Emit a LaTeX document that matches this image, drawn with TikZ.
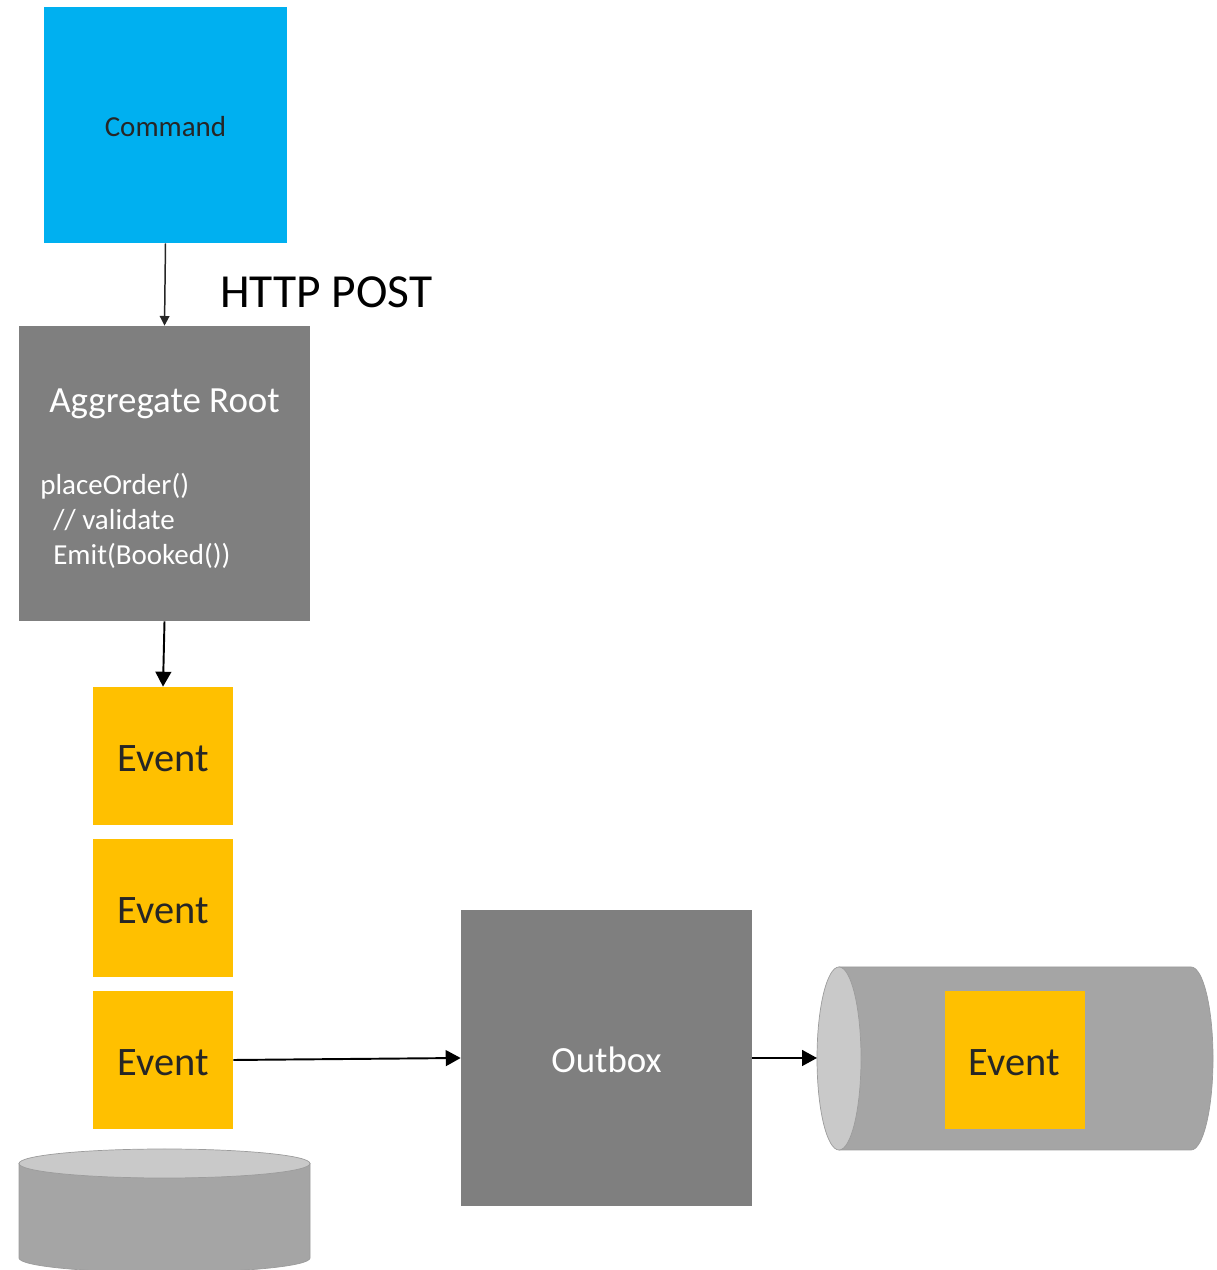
\documentclass[tikz,border=0pt]{standalone}
\usepackage{fontspec}
\setmainfont{Carlito}
\usetikzlibrary{positioning,arrows.meta}
\definecolor{cmdblue}{HTML}{00B0F0}
\definecolor{boxgray}{HTML}{7F7F7F}
\definecolor{evtyellow}{HTML}{FFC000}
\definecolor{cylbody}{HTML}{A5A5A5}
\definecolor{cylend}{HTML}{C9C9C9}
\definecolor{cyledge}{HTML}{9C9C9C}
\definecolor{inkdark}{HTML}{262626}
\newcommand{\dropby}[2]{\raisebox{-#1}[\height][\depth]{#2}}
\tikzset{
  cmdbox/.style={rectangle,fill=cmdblue,minimum width=4.86cm,minimum height=4.72cm,inner sep=0,text=inkdark,font=\fontsize{16.5}{20}\selectfont},
  graybox/.style={rectangle,fill=boxgray,minimum width=5.82cm,inner sep=0,text=white,font=\fontsize{21}{25}\selectfont},
  event/.style={rectangle,fill=evtyellow,minimum width=2.8cm,minimum height=2.76cm,inner sep=0,text=inkdark,font=\fontsize{23}{28}\selectfont},
  % the stores are cylinders, the visible end cap a lighter grey
  cylside/.style={fill=cylbody,draw=cyledge,line width=0.4pt},
  cylcap/.style={fill=cylend,draw=cyledge,line width=0.4pt},
  code/.style={text=white,inner sep=0,anchor=base west,font=\fontsize{16.5}{20}\selectfont},
  thinarrow/.style={-{Triangle[length=5.5pt,width=5.5pt]},line width=0.85pt,draw=inkdark},
  arrow/.style={-{Triangle[length=8.5pt,width=9pt]},line width=1.1pt},
}
\begin{document}
\begin{tikzpicture}[x=0.02cm,y=0.02cm]
  \useasboundingbox (0,0) rectangle (1216,1270);
  \node[cmdbox] (command) at (165.5,1145) {\dropby{1.1pt}{Command}};
  \node[anchor=base west,inner sep=0,font=\fontsize{27}{32}\selectfont] (http) at (220,962) {HTTP POST};
  % aggregate root with its method body
  \node[graybox,minimum height=5.9cm] (aggregate) at (164.5,796.5) {};
  \node[text=white,inner sep=0,anchor=base,font=\fontsize{21}{25}\selectfont] (aggtitle) at (164.5,857) {Aggregate Root};
  \node[code] (line1) at (40,775) {placeOrder()};
  \node[code] (line2) at (53,740) {// validate};
  \node[code] (line3) at (53,705) {Emit(Booked())};
  % emitted events
  \node[event] (ev1) at (163,514) {\dropby{1.7pt}{Event}};
  \node[event] (ev2) at (163,362) {\dropby{1.7pt}{Event}};
  \node[event] (ev3) at (163,210) {\dropby{1.7pt}{Event}};
  % event store below, cut by the page edge
  \filldraw[cylside] (19,106.5) -- (19,12) arc[start angle=180,end angle=360,x radius=145.5,y radius=14.5] -- (310,106.5) -- cycle;
  \filldraw[cylcap] (164.5,106.5) ellipse[x radius=145.5,y radius=14.5];
  \node[graybox,minimum height=5.92cm] (outbox) at (606.5,212) {\dropby{1.1pt}{Outbox}};
  % message queue lying on its side
  \filldraw[cylside] (839,303) -- (1191,303) arc[start angle=90,end angle=-90,x radius=22,y radius=91.5] -- (839,120) -- cycle;
  \filldraw[cylcap] (839,211.5) ellipse[x radius=22,y radius=91.5];
  \coordinate (queuein) at (817,212);
  \node[event] (qevent) at (1014.5,210) {\dropby{1.7pt}{Event}};
  \draw[thinarrow] (command.south) -- (aggregate.north);
  \draw[arrow] (aggregate.south) -- (ev1.north);
  \draw[arrow] (ev3.east) -- (outbox.west);
  \draw[arrow] (outbox.east) -- (queuein);
\end{tikzpicture}
\end{document}
